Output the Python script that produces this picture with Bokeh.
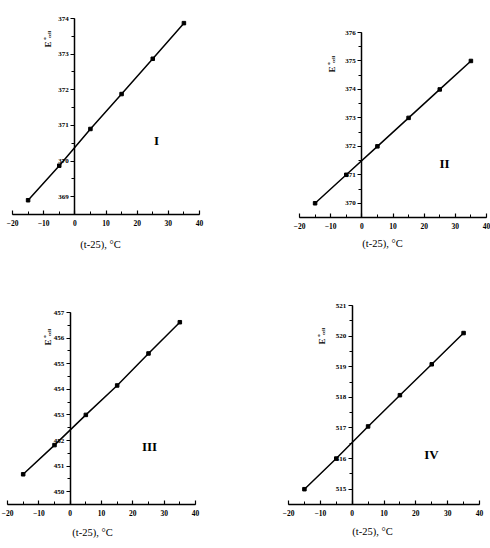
import math
from bokeh.plotting import figure
from bokeh.models import Range1d, SingleIntervalTicker, Label, LinearAxis
from bokeh.layouts import column, row
from bokeh.embed import file_html
from bokeh.resources import INLINE

# ---- data ----
t = [-15, -5, 5, 15, 25, 35]
E_I = [368.9, 369.87, 370.9, 371.88, 372.87, 373.87]
E_II = [370.0, 371.0, 372.0, 373.0, 374.0, 375.0]
E_III = [450.68, 451.82, 453.0, 454.15, 455.4, 456.62]
E_IV = [515.0, 516.0, 517.05, 518.07, 519.08, 520.1]
names = ["I", "II", "III", "IV"]
x_label = "(t-25), \u00b0C"

# ---- layout per panel: axes box (left, right, top, bottom) in figure px, y range ----
panels = [
    dict(E=E_I, name="I", box=(12, 199, 18, 214), yr=(368.5, 374),
         tag=(156, 140), elab=(47, 44), xlab=(100, 244)),
    dict(E=E_II, name="II", box=(54, 241, 32, 217), yr=(369.5, 376),
         tag=(199, 163), elab=(86, 69), xlab=(137, 243)),
    dict(E=E_III, name="III", box=(7, 195, 38, 230), yr=(449.5, 457),
         tag=(149, 172), elab=(47, 68), xlab=(92, 258)),
    dict(E=E_IV, name="IV", box=(43, 234, 31, 230), yr=(514.5, 521),
         tag=(186, 180), elab=(76, 67), xlab=(127, 257)),
]

W, H = 245, 274
XR = (-20, 40)
FONT = "Liberation Serif"


def make(pc):
    l, r, tp, b = pc["box"]
    y0, y1 = pc["yr"]
    x0, x1 = XR
    sx = (x1 - x0) / (r - l)
    sy = (y1 - y0) / (b - tp)

    def d(px, py):
        return (x0 + (px - l) * sx, y1 - (py - tp) * sy)

    xs, ys_top = d(0, 0)
    xe, ys_bot = d(W, H)

    p = figure(width=W, height=H, output_backend="svg", toolbar_location=None,
               title=None,
               x_range=Range1d(xs, xe), y_range=Range1d(ys_bot, ys_top),
               x_axis_location=None, y_axis_location=None,
               min_border=0)
    p.outline_line_color = None
    p.xgrid.visible = False
    p.ygrid.visible = False
    p.background_fill_color = "white"
    p.border_fill_color = "white"

    xa = LinearAxis(fixed_location=y0, bounds=(x0, x1),
                    ticker=SingleIntervalTicker(interval=10, num_minor_ticks=2))
    xa.major_tick_in = 4
    xa.major_tick_out = 0
    xa.minor_tick_in = 3
    xa.minor_tick_out = 0
    xa.axis_line_width = 1.5
    xa.major_tick_line_width = 1.2
    xa.major_label_text_font = FONT
    xa.major_label_text_font_style = "bold"
    xa.major_label_text_font_size = "7.5px"
    xa.major_label_text_color = "black"
    xa.major_label_standoff = 5
    p.add_layout(xa, "below")

    ya = LinearAxis(fixed_location=0, bounds=(y0, y1),
                    ticker=SingleIntervalTicker(interval=1, num_minor_ticks=2))
    ya.major_tick_in = 0
    ya.major_tick_out = 4
    ya.minor_tick_in = 0
    ya.minor_tick_out = 3
    ya.axis_line_width = 1.5
    ya.major_tick_line_width = 1.2
    ya.major_label_text_font = FONT
    ya.major_label_text_font_style = "bold"
    ya.major_label_text_font_size = "7px"
    ya.major_label_text_color = "black"
    ya.major_label_standoff = 2
    p.add_layout(ya, "left")

    p.line(t, pc["E"], line_color="black", line_width=1.5)
    p.scatter(t, pc["E"], marker="square", size=3.5, color="black")

    # roman numeral tag
    tx, ty = d(*pc["tag"])
    p.add_layout(Label(x=tx, y=ty, text=pc["name"], text_font=FONT,
                       text_font_style="bold", text_font_size="13px",
                       text_color="black",
                       text_align="center", text_baseline="middle"))

    # x-axis title
    lx, ly = d(*pc["xlab"])
    p.add_layout(Label(x=lx, y=ly, text=x_label, text_font=FONT,
                       text_font_size="10.5px", text_color="black",
                       text_align="center", text_baseline="middle"))

    # y title: E (sup o) (sub cell), rotated
    ex, ey = pc["elab"]
    a = math.pi / 2
    px_, py_ = d(ex, ey)
    p.add_layout(Label(x=px_, y=py_, text="E", angle=a, text_font=FONT,
                       text_font_style="bold", text_font_size="9px",
                       text_color="black",
                       text_align="center", text_baseline="middle"))
    px_, py_ = d(ex - 3, ey - 6)
    p.add_layout(Label(x=px_, y=py_, text="o", angle=a, text_font=FONT,
                       text_font_style="bold", text_font_size="5px",
                       text_color="black",
                       text_align="center", text_baseline="middle"))
    px_, py_ = d(ex + 2, ey - 10)
    p.add_layout(Label(x=px_, y=py_, text="cell", angle=a, text_font=FONT,
                       text_font_style="bold", text_font_size="5px",
                       text_color="black",
                       text_align="center", text_baseline="middle"))
    return p


figs = [make(pc) for pc in panels]
layout = column(row(figs[0], figs[1]), row(figs[2], figs[3]))
open("out.html", "w").write(file_html(layout, INLINE))
